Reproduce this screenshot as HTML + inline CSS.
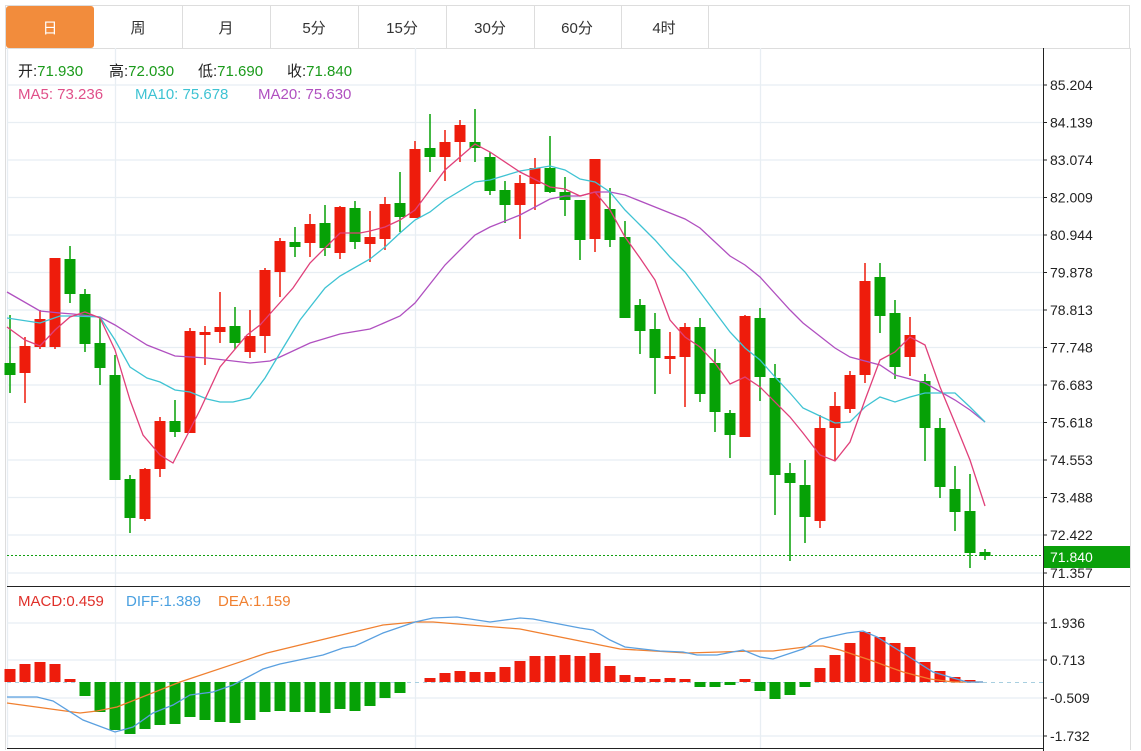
<!DOCTYPE html>
<html><head><meta charset="utf-8"><style>
html,body{margin:0;padding:0;background:#fff;width:1141px;height:751px;overflow:hidden}
svg text{font-family:"Liberation Sans","Noto Sans CJK SC",sans-serif}
</style></head><body>
<svg width="1141" height="751" viewBox="0 0 1141 751" xmlns="http://www.w3.org/2000/svg">
<rect x="5.5" y="5.5" width="1124" height="43" fill="#fff" stroke="#ddd"/>
<rect x="6" y="6" width="88" height="42" rx="3" fill="#f28c3c"/>
<g stroke="#ddd"><path d="M182.5 6V48M270.5 6V48M358.5 6V48M446.5 6V48M534.5 6V48M621.5 6V48M708.5 6V48"/></g>
<g font-size="15" fill="#333" text-anchor="middle">
<text x="50" y="33" fill="#fff">日</text><text x="138" y="33">周</text><text x="226" y="33">月</text><text x="314" y="33">5分</text><text x="402" y="33">15分</text><text x="490" y="33">30分</text><text x="577" y="33">60分</text><text x="664" y="33">4时</text>
</g>
<path d="M5.5 48V750M1130.5 48V750" stroke="#ddd"/>
<g stroke="#e8eef3" stroke-width="1.3">
<path d="M7 85H1043M7 122.5H1043M7 160H1043M7 197.5H1043M7 235H1043M7 272.5H1043M7 310H1043M7 347.5H1043M7 385H1043M7 422.5H1043M7 460H1043M7 497.5H1043M7 535H1043M7 573H1043"/>
<path d="M7 623H1043M7 660H1043M7 698H1043M7 736H1043"/>
<path d="M115.5 48V748M415.5 48V748M760.5 48V748M7.5 48V748"/>
</g>
<path d="M1043.5 48V751M7 586.5H1130M7 748.5H1043" stroke="#222" stroke-width="1"/>
<g stroke="#222"><path d="M1043 85h4M1043 122.5h4M1043 160h4M1043 197.5h4M1043 235h4M1043 272.5h4M1043 310h4M1043 347.5h4M1043 385h4M1043 422.5h4M1043 460h4M1043 497.5h4M1043 535h4M1043 573h4M1043 623h4M1043 660h4M1043 698h4M1043 736h4"/></g>
<g font-size="14" fill="#222">
<text x="1050" y="90">85.204</text><text x="1050" y="127.5">84.139</text><text x="1050" y="165">83.074</text><text x="1050" y="202.5">82.009</text><text x="1050" y="240">80.944</text><text x="1050" y="277.5">79.878</text><text x="1050" y="315">78.813</text><text x="1050" y="352.5">77.748</text><text x="1050" y="390">76.683</text><text x="1050" y="427.5">75.618</text><text x="1050" y="465">74.553</text><text x="1050" y="502.5">73.488</text><text x="1050" y="540">72.422</text><text x="1050" y="578">71.357</text>
<text x="1050" y="628">1.936</text><text x="1050" y="665">0.713</text><text x="1050" y="703">-0.509</text><text x="1050" y="741">-1.732</text>
</g>
<path d="M7 555.5H1043" stroke="#10a010" stroke-dasharray="2,2"/>
<rect x="1044" y="546" width="86" height="22" fill="#0aa00a"/>
<text x="1050" y="562" font-size="14" fill="#fff">71.840</text>
<g font-size="15">
<text x="18" y="76" fill="#222">开:<tspan fill="#1a9a1a">71.930</tspan></text>
<text x="109" y="76" fill="#222">高:<tspan fill="#1a9a1a">72.030</tspan></text>
<text x="198" y="76" fill="#222">低:<tspan fill="#1a9a1a">71.690</tspan></text>
<text x="287" y="76" fill="#222">收:<tspan fill="#1a9a1a">71.840</tspan></text>
<text x="18" y="99" fill="#e0508a">MA5: 73.236</text>
<text x="135" y="99" fill="#3fc3d3">MA10: 75.678</text>
<text x="258" y="99" fill="#b050c0">MA20: 75.630</text>
<text x="18" y="606" fill="#e0302a">MACD:0.459</text>
<text x="126" y="606" fill="#4aa0e0">DIFF:1.389</text>
<text x="218" y="606" fill="#f08030">DEA:1.159</text>
</g>
<g fill="#06a106">
<path stroke="#06a106" stroke-width="1.5" d="M10 315V393M70 246V303M85 289V352M100 318V385M115 355V480M130 475V533M175 400V437M235 307V349M295 227V257M325 205V256M355 201V249M400 172V232M430 114V172M475 109V162M490 152V195M505 181V223M550 136V193M565 177V216M580 200V260M610 188V247M625 221V318M640 299V354M655 313V394M700 318V402M715 349V432M730 410V458M760 308V401M775 364V515M790 463V561M805 460V543M880 263V333M895 300V379M925 374V461M940 418V498M955 466V531M970 474V568M985 549V560"/>
<rect x="4.5" y="363" width="11" height="12"/><rect x="64.5" y="259" width="11" height="35"/><rect x="79.5" y="294" width="11" height="50"/><rect x="94.5" y="343" width="11" height="25"/><rect x="109.5" y="375" width="11" height="105"/><rect x="124.5" y="479" width="11" height="39"/><rect x="169.5" y="421" width="11" height="11"/><rect x="229.5" y="326" width="11" height="17"/><rect x="289.5" y="242" width="11" height="5"/><rect x="319.5" y="223" width="11" height="25"/><rect x="349.5" y="208" width="11" height="34"/><rect x="394.5" y="203" width="11" height="14"/><rect x="424.5" y="148" width="11" height="9"/><rect x="469.5" y="142" width="11" height="6"/><rect x="484.5" y="157" width="11" height="34"/><rect x="499.5" y="190" width="11" height="15"/><rect x="544.5" y="168" width="11" height="24"/><rect x="559.5" y="192" width="11" height="8"/><rect x="574.5" y="200" width="11" height="40"/><rect x="604.5" y="209" width="11" height="31"/><rect x="619.5" y="237" width="11" height="81"/><rect x="634.5" y="305" width="11" height="26"/><rect x="649.5" y="329" width="11" height="29"/><rect x="694.5" y="327" width="11" height="67"/><rect x="709.5" y="363" width="11" height="49"/><rect x="724.5" y="413" width="11" height="22"/><rect x="754.5" y="318" width="11" height="59"/><rect x="769.5" y="378" width="11" height="97"/><rect x="784.5" y="473" width="11" height="10"/><rect x="799.5" y="485" width="11" height="32"/><rect x="874.5" y="277" width="11" height="39"/><rect x="889.5" y="313" width="11" height="54"/><rect x="919.5" y="381" width="11" height="47"/><rect x="934.5" y="428" width="11" height="59"/><rect x="949.5" y="489" width="11" height="23"/><rect x="964.5" y="511" width="11" height="42"/><rect x="979.5" y="552" width="11" height="4"/>
</g>
<g fill="#ee1c0c">
<path stroke="#ee1c0c" stroke-width="1.5" d="M25 337V403M40 310V349M55 258V349M145 468V521M160 417V477M190 328V433M205 326V365M220 292V343M250 310V358M265 268V353M280 238V297M310 214V257M340 206V259M370 211V262M385 197V250M415 141V218M445 130V181M460 120V162M520 175V239M535 158V210M595 159V252M670 332V374M685 323V407M745 315V437M820 415V528M835 392V461M850 371V413M865 263V383M910 317V376"/>
<rect x="19.5" y="346" width="11" height="27"/><rect x="34.5" y="319" width="11" height="28"/><rect x="49.5" y="258" width="11" height="89"/><rect x="139.5" y="469" width="11" height="50"/><rect x="154.5" y="421" width="11" height="48"/><rect x="184.5" y="331" width="11" height="102"/><rect x="199.5" y="332" width="11" height="3"/><rect x="214.5" y="327" width="11" height="5"/><rect x="244.5" y="336" width="11" height="16"/><rect x="259.5" y="270" width="11" height="66"/><rect x="274.5" y="241" width="11" height="31"/><rect x="304.5" y="224" width="11" height="19"/><rect x="334.5" y="207" width="11" height="46"/><rect x="364.5" y="237" width="11" height="7"/><rect x="379.5" y="204" width="11" height="35"/><rect x="409.5" y="149" width="11" height="69"/><rect x="439.5" y="142" width="11" height="15"/><rect x="454.5" y="125" width="11" height="17"/><rect x="514.5" y="183" width="11" height="22"/><rect x="529.5" y="168" width="11" height="16"/><rect x="589.5" y="159" width="11" height="80"/><rect x="664.5" y="356" width="11" height="3"/><rect x="679.5" y="327" width="11" height="30"/><rect x="739.5" y="316" width="11" height="121"/><rect x="814.5" y="428" width="11" height="93"/><rect x="829.5" y="406" width="11" height="22"/><rect x="844.5" y="375" width="11" height="34"/><rect x="859.5" y="281" width="11" height="94"/><rect x="904.5" y="335" width="11" height="22"/>
</g>
<g fill="none" stroke-width="1.3">
<polyline stroke="#b050c0" points="7,292 40,311 60,313 73,314 100,317 115,325 147,345 175,356 207,358 233,361 250,363 270,361 280,357 310,343 340,334 370,329 400,316 415,303 445,265 475,235 490,227 520,215 550,199 565,196 580,196 595,192 610,192 625,195 655,207 685,219 700,228 730,256 745,265 760,277 790,310 803,323 835,348 850,357 880,365 895,375 925,383 955,400 970,410 985,422"/>
<polyline stroke="#3fc3d3" points="7,318 40,323 60,316 73,316 100,317 115,340 130,367 147,378 160,382 175,390 190,392 207,399 220,402 233,402 250,398 265,378 280,353 300,320 325,288 340,276 370,259 385,247 400,233 415,220 430,212 445,200 475,182 490,180 520,171 550,166 565,170 580,179 595,182 610,192 625,210 640,225 655,240 670,257 685,272 700,292 715,312 730,332 745,348 760,360 775,377 790,393 803,408 820,416 835,423 850,422 865,407 880,397 895,402 910,397 925,393 955,393 970,407 985,422"/>
<polyline stroke="#e0407a" points="7,327 25,340 40,346 55,330 70,317 85,312 100,318 115,350 130,400 143,435 160,455 173,463 200,410 220,367 247,335 260,325 293,288 310,263 340,233 360,233 370,231 385,227 400,220 415,210 445,170 475,144 490,152 520,172 550,187 565,189 580,196 595,192 610,210 625,237 640,258 655,280 670,320 685,337 700,347 715,363 730,384 745,377 760,387 790,417 803,433 820,455 835,461 850,442 865,400 880,360 895,352 910,337 925,345 940,387 955,423 970,460 985,506"/>
</g>
<path d="M7 682.5H1043" stroke="#a8cfe0" stroke-dasharray="4,4"/>
<g fill="#ee1c0c">
<rect x="4.5" y="669" width="11" height="13"/><rect x="19.5" y="664" width="11" height="18"/><rect x="34.5" y="662" width="11" height="20"/><rect x="49.5" y="664" width="11" height="18"/><rect x="64.5" y="679" width="11" height="3"/>
<rect x="424.5" y="678" width="11" height="4"/><rect x="439.5" y="673" width="11" height="9"/><rect x="454.5" y="671" width="11" height="11"/><rect x="469.5" y="672" width="11" height="10"/><rect x="484.5" y="672" width="11" height="10"/><rect x="499.5" y="667" width="11" height="15"/><rect x="514.5" y="661" width="11" height="21"/><rect x="529.5" y="656" width="11" height="26"/><rect x="544.5" y="656" width="11" height="26"/><rect x="559.5" y="655" width="11" height="27"/><rect x="574.5" y="656" width="11" height="26"/><rect x="589.5" y="653" width="11" height="29"/><rect x="604.5" y="666" width="11" height="16"/><rect x="619.5" y="675" width="11" height="7"/><rect x="634.5" y="677" width="11" height="5"/><rect x="649.5" y="679" width="11" height="3"/><rect x="664.5" y="678" width="11" height="4"/><rect x="679.5" y="679" width="11" height="3"/><rect x="739.5" y="679" width="11" height="3"/>
<rect x="814.5" y="668" width="11" height="14"/><rect x="829.5" y="655" width="11" height="27"/><rect x="844.5" y="643" width="11" height="39"/><rect x="859.5" y="632" width="11" height="50"/><rect x="874.5" y="637" width="11" height="45"/><rect x="889.5" y="643" width="11" height="39"/><rect x="904.5" y="647" width="11" height="35"/><rect x="919.5" y="662" width="11" height="20"/><rect x="934.5" y="671" width="11" height="11"/><rect x="949.5" y="677" width="11" height="5"/><rect x="964.5" y="680" width="11" height="2"/>
</g>
<g fill="#06a106">
<rect x="79.5" y="682" width="11" height="14"/><rect x="94.5" y="682" width="11" height="30"/><rect x="109.5" y="682" width="11" height="48"/><rect x="124.5" y="682" width="11" height="52"/><rect x="139.5" y="682" width="11" height="47"/><rect x="154.5" y="682" width="11" height="43"/><rect x="169.5" y="682" width="11" height="42"/><rect x="184.5" y="682" width="11" height="35"/><rect x="199.5" y="682" width="11" height="38"/><rect x="214.5" y="682" width="11" height="40"/><rect x="229.5" y="682" width="11" height="41"/><rect x="244.5" y="682" width="11" height="38"/><rect x="259.5" y="682" width="11" height="30"/><rect x="274.5" y="682" width="11" height="29"/><rect x="289.5" y="682" width="11" height="30"/><rect x="304.5" y="682" width="11" height="30"/><rect x="319.5" y="682" width="11" height="31"/><rect x="334.5" y="682" width="11" height="27"/><rect x="349.5" y="682" width="11" height="29"/><rect x="364.5" y="682" width="11" height="24"/><rect x="379.5" y="682" width="11" height="16"/><rect x="394.5" y="682" width="11" height="11"/>
<rect x="694.5" y="682" width="11" height="5"/><rect x="709.5" y="682" width="11" height="5"/><rect x="724.5" y="682" width="11" height="3"/><rect x="754.5" y="682" width="11" height="9"/><rect x="769.5" y="682" width="11" height="17"/><rect x="784.5" y="682" width="11" height="13"/><rect x="799.5" y="682" width="11" height="5"/>
</g>
<g fill="none" stroke-width="1.3">
<polyline stroke="#f08030" points="7,703 80,713 97,711 117,707 180,682 267,653 333,637 383,625 415,622 433,622 520,629 620,649 687,653 753,651 773,651 813,646 823,646 840,650 870,660 903,672 930,679 953,682 983,682"/>
<polyline stroke="#5aa0e0" points="7,697 37,697 53,701 83,720 115,732 133,727 153,713 173,705 190,695 213,692 233,685 263,669 280,664 323,655 343,648 355,646 383,633 415,622 433,618 457,617 490,622 520,618 533,619 580,628 593,630 610,640 625,647 660,651 683,652 697,655 717,655 743,650 760,657 773,659 803,649 820,639 847,633 863,631 877,637 903,653 933,672 953,678 967,682 983,682"/>
</g>
</svg>
</body></html>
